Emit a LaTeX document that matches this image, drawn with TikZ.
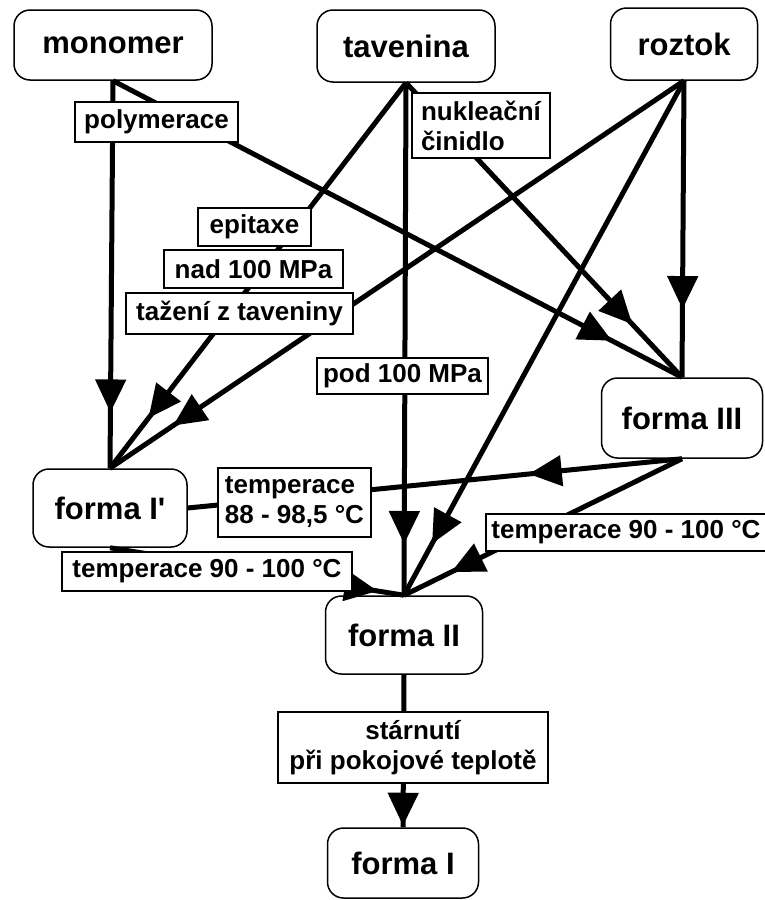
\documentclass[tikz,border=0pt]{standalone}
\usepackage{fontspec}
\setmainfont{Liberation Sans}
\usetikzlibrary{arrows.meta,decorations.markings}

\begin{document}
\begin{tikzpicture}[x=1pt, y=-1pt,
    forma/.style={draw, line width=1.5pt, fill=white, rounded corners=16pt, inner sep=0pt,
      font=\bfseries\fontsize{31}{36}\selectfont},
    popis/.style={draw, line width=1.5pt, fill=white, inner sep=0pt,
      font=\bfseries\fontsize{26}{30}\selectfont},
    hrana/.style={line width=5pt, postaction={decorate},
      decoration={markings, mark=at position #1 with {\arrow{Triangle[length=33pt,width=30pt]}}}}]
      \useasboundingbox (0,0) rectangle (764,900);
      \node[forma, minimum width=198pt, minimum height=70pt] (monomer) at (113,45) {monomer};
      \node[forma, minimum width=178pt, minimum height=72pt] (tavenina) at (406,46) {tavenina};
      \node[forma, minimum width=147pt, minimum height=72pt] (roztok) at (684,44) {roztok};
      \node[forma, minimum width=161pt, minimum height=80pt] (f3) at (682,418) {forma III};
      \node[forma, minimum width=154pt, minimum height=78pt] (f1c) at (110,508) {forma I\textquotesingle};
      \node[forma, minimum width=157pt, minimum height=78pt] (f2) at (404,635) {forma II};
      \node[forma, minimum width=151pt, minimum height=70pt] (f1) at (403,863) {forma I};
      \draw[hrana=0.856] (monomer.south) -- (f1c.north);
      \draw[hrana=0.877] (monomer.south) -- (f3.north);
      \draw[hrana=0.87] (tavenina.south) -- (f1c.north);
      \draw[hrana=0.9] (tavenina.south) -- (f2.north);
      \draw[hrana=0.82] (tavenina.south) -- (f3.north);
      \draw[hrana=0.89] (roztok.south) -- (f1c.north);
      \draw[hrana=0.9] (roztok.south) -- (f2.north);
      \draw[hrana=0.77] (roztok.south) -- (f3.north);
      \draw[hrana=0.31] (f3.south) -- (f1c.east);
      \draw[hrana=0.83] (f3.south) -- (f2.north);
      \draw[hrana=0.91] (f1c.south) -- (f2.north);
      \draw[hrana=0.99] (f2.south) -- (f1.north);
      \node[popis, minimum width=163pt, minimum height=40pt] (polym) at (156.5,122) {polymerace};
      \node[popis, minimum width=138pt, minimum height=65pt, align=left] (nukl) at (481,125.5) {nukleační\\činidlo};
      \node[popis, minimum width=113pt, minimum height=38pt] (epit) at (254.5,227) {epitaxe};
      \node[popis, minimum width=179pt, minimum height=38pt] (nad) at (253.5,269) {nad 100 MPa};
      \node[popis, minimum width=227pt, minimum height=41pt] (taz) at (239.5,313.5) {tažení z taveniny};
      \node[popis, minimum width=171pt, minimum height=36pt] (pod) at (402.5,376) {pod 100 MPa};
      \node[popis, minimum width=153pt, minimum height=69pt, align=left] (temp1) at (294.5,502.5) {temperace\\88 - 98,5 °C};
      \node[popis, minimum width=290pt, minimum height=39pt] (temp2) at (207,571.5) {temperace 90 - 100 °C};
      \node[popis, minimum width=280pt, minimum height=37pt] (temp3) at (626,532.5) {temperace 90 - 100 °C};
      \node[popis, minimum width=270pt, minimum height=71pt, align=center] (starn) at (413,747.5) {stárnutí\\při pokojové teplotě};
    \end{tikzpicture}
\end{document}
